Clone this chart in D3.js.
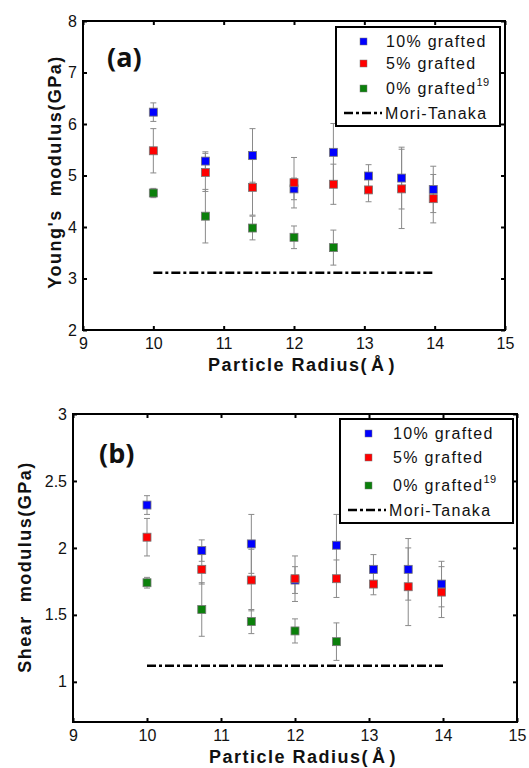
<!DOCTYPE html>
<html>
<head>
<meta charset="utf-8">
<script src="https://cdn.jsdelivr.net/npm/d3@7"></script>
<style>
  body { margin: 0; background: #fff; }
  svg { display: block; }
  .tick text { font-family: "Liberation Sans", Arial, sans-serif; font-size: 16px; fill: #111; }
  .title { font-family: "Liberation Sans", Arial, sans-serif; font-size: 18px; font-weight: bold; letter-spacing: 1.5px; fill: #111; white-space: pre; }
  .legend text { font-family: "Liberation Sans", Arial, sans-serif; font-size: 16px; letter-spacing: 1.3px; fill: #111; }
  .panel { font-family: "Open Sans", sans-serif; font-size: 27px; font-weight: bold; fill: #111; }
</style>
</head>
<body>
<svg id="chart" width="529" height="768"></svg>
<script>
// particle radius (Å)
var radius = [10, 10.74, 11.41, 12, 12.56, 13.06, 13.53, 13.98];
var radius0 = [10, 10.74, 11.41, 12, 12.56];

// Young's modulus (GPa)
var young10 = [6.23, 5.28, 5.39, 4.74, 5.45, 4.99, 4.95, 4.73];
var young10Err = [0.18, 0.18, 0.52, 0.21, 0.56, 0.22, 0.60, 0.45];
var young5 = [5.48, 5.06, 4.77, 4.86, 4.83, 4.72, 4.74, 4.55];
var young5Err = [0.43, 0.37, 0.54, 0.49, 0.39, 0.23, 0.77, 0.47];
var young0 = [4.66, 4.21, 3.98, 3.80, 3.60];
var young0Err = [0.09, 0.52, 0.23, 0.22, 0.34];
var youngMT = 3.11;

// Shear modulus (GPa)
var shear10 = [2.32, 1.98, 2.03, 1.76, 2.02, 1.84, 1.84, 1.73];
var shear10Err = [0.07, 0.08, 0.22, 0.10, 0.23, 0.11, 0.23, 0.17];
var shear5 = [2.08, 1.84, 1.76, 1.77, 1.77, 1.73, 1.71, 1.67];
var shear5Err = [0.14, 0.11, 0.23, 0.17, 0.14, 0.08, 0.29, 0.19];
var shear0 = [1.74, 1.54, 1.45, 1.38, 1.30];
var shear0Err = [0.04, 0.20, 0.09, 0.09, 0.14];
var shearMT = 1.12;

var mtRange = [10, 14];
var xTicks = [9, 10, 11, 12, 13, 14, 15];
var youngTicks = [2, 3, 4, 5, 6, 7, 8];
var shearTicks = [1, 1.5, 2, 2.5, 3];

var legendNames = ["10% grafted", "5% grafted", "0% grafted", "Mori-Tanaka"];
var colors = ["#0000ff", "#ff0000", "#0b800b"];

var svg = d3.select("#chart");

function drawPanel(opt) {
  var g = svg.append("g");
  var x = d3.scaleLinear().domain([9, 15]).range([opt.left, opt.right]);
  var y = d3.scaleLinear().domain(opt.yDomain).range([opt.bottom, opt.top]);

  // axes with inward ticks
  g.append("g")
    .attr("transform", "translate(0," + opt.bottom + ")")
    .call(d3.axisBottom(x).tickValues(xTicks).tickSize(-4).tickPadding(8).tickFormat(d3.format("d")))
    .call(function(a) { a.select(".domain").remove(); });
  g.append("g")
    .attr("transform", "translate(0," + opt.top + ")")
    .call(d3.axisTop(x).tickValues(xTicks).tickSize(-4).tickFormat(""))
    .call(function(a) { a.select(".domain").remove(); });
  g.append("g")
    .attr("transform", "translate(" + opt.left + ",0)")
    .call(d3.axisLeft(y).tickValues(opt.yTicks).tickSize(-4).tickPadding(6).tickFormat(function(d) { return d; }))
    .call(function(a) { a.select(".domain").remove(); });
  g.append("g")
    .attr("transform", "translate(" + opt.right + ",0)")
    .call(d3.axisRight(y).tickValues(opt.yTicks).tickSize(-4).tickFormat(""))
    .call(function(a) { a.select(".domain").remove(); });
  g.selectAll(".tick line").attr("stroke", "#000").attr("stroke-width", 2);

  g.append("rect")
    .attr("x", opt.left).attr("y", opt.top)
    .attr("width", opt.right - opt.left).attr("height", opt.bottom - opt.top)
    .attr("fill", "none").attr("stroke", "#000").attr("stroke-width", 2);

  // Mori-Tanaka
  g.append("line")
    .attr("x1", x(mtRange[0])).attr("x2", x(mtRange[1]))
    .attr("y1", y(opt.mt)).attr("y2", y(opt.mt))
    .attr("stroke", "#000").attr("stroke-width", 2.5)
    .attr("stroke-dasharray", "9,3,3,3");

  var series = opt.series;
  // error bars first
  series.forEach(function(s) {
    var pts = s.xs.map(function(r, i) { return { r: r, v: s.vals[i], e: s.errs[i] }; });
    var eb = g.append("g").selectAll("g").data(pts).enter().append("g")
      .attr("stroke", "#8a8a8a").attr("stroke-width", 1);
    eb.append("line")
      .attr("x1", function(d) { return x(d.r); }).attr("x2", function(d) { return x(d.r); })
      .attr("y1", function(d) { return y(d.v - d.e); }).attr("y2", function(d) { return y(d.v + d.e); });
    eb.append("line")
      .attr("x1", function(d) { return x(d.r) - 3; }).attr("x2", function(d) { return x(d.r) + 3; })
      .attr("y1", function(d) { return y(d.v - d.e); }).attr("y2", function(d) { return y(d.v - d.e); });
    eb.append("line")
      .attr("x1", function(d) { return x(d.r) - 3; }).attr("x2", function(d) { return x(d.r) + 3; })
      .attr("y1", function(d) { return y(d.v + d.e); }).attr("y2", function(d) { return y(d.v + d.e); });
  });
  series.forEach(function(s, k) {
    g.append("g").selectAll("rect")
      .data(s.xs.map(function(r, i) { return { r: r, v: s.vals[i] }; }))
      .enter().append("rect")
      .attr("x", function(d) { return x(d.r) - 4; })
      .attr("y", function(d) { return y(d.v) - 4; })
      .attr("width", 8).attr("height", 8)
      .attr("fill", colors[k])
      .attr("stroke", "#777").attr("stroke-width", 0.8);
  });

  // titles
  var xt = g.append("text").attr("class", "title")
    .attr("x", (opt.left + opt.right) / 2 + 8).attr("y", opt.bottom + 41)
    .attr("text-anchor", "middle");
  xt.append("tspan").text("Particle Radius(");
  xt.append("tspan").attr("dx", 3).text("Å");
  xt.append("tspan").attr("dx", 3).text(")");
  g.append("text").attr("class", "title")
    .attr("transform", "translate(" + opt.yTitleX + "," + opt.yTitleY + ") rotate(-90)")
    .attr("text-anchor", "middle")
    .text(opt.yTitle);

  g.append("text").attr("class", "panel")
    .attr("x", opt.panelX).attr("y", opt.panelY)
    .text(opt.panel);

  // legend
  var L = opt.legend;
  var lg = g.append("g").attr("class", "legend");
  lg.append("rect")
    .attr("x", L.x).attr("y", L.y).attr("width", L.w).attr("height", L.h)
    .attr("fill", "#fff").attr("stroke", "#000").attr("stroke-width", 2);
  legendNames.forEach(function(name, i) {
    var yy = L.rows[i];
    if (i < 3) {
      lg.append("rect")
        .attr("x", L.markX - 3).attr("y", yy - 3).attr("width", 7).attr("height", 7)
        .attr("fill", colors[i]).attr("stroke", "#777").attr("stroke-width", 0.5);
    } else {
      lg.append("line")
        .attr("x1", L.lineX[0]).attr("x2", L.lineX[1]).attr("y1", yy).attr("y2", yy)
        .attr("stroke", "#000").attr("stroke-width", 2.5).attr("stroke-dasharray", "9,3,3,3");
    }
    var t = lg.append("text").attr("x", i < 3 ? L.textX : L.lineX[1] + 3).attr("y", yy + 6).text(name);
    if (i === 2) {
      t.append("tspan").attr("dy", -8).attr("font-size", "11px").attr("letter-spacing", "0.5px").text("19");
    }
  });
}

drawPanel({
  left: 83, right: 505, top: 21, bottom: 330,
  yDomain: [2, 8], yTicks: youngTicks, mt: youngMT,
  series: [
    { xs: radius, vals: young10, errs: young10Err },
    { xs: radius, vals: young5, errs: young5Err },
    { xs: radius0, vals: young0, errs: young0Err }
  ],
  yTitle: "Young's  modulus(GPa)", yTitleX: 61, yTitleY: 172,
  panel: "(a)", panelX: 107, panelY: 67,
  legend: { x: 336, y: 27, w: 164, h: 99, rows: [41, 63, 88, 113], markX: 363, textX: 386, lineX: [344, 382] }
});

drawPanel({
  left: 73, right: 517, top: 414, bottom: 722,
  yDomain: [0.7, 3], yTicks: shearTicks, mt: shearMT,
  series: [
    { xs: radius, vals: shear10, errs: shear10Err },
    { xs: radius, vals: shear5, errs: shear5Err },
    { xs: radius0, vals: shear0, errs: shear0Err }
  ],
  yTitle: "Shear  modulus(GPa)", yTitleX: 31, yTitleY: 567,
  panel: "(b)", panelX: 99, panelY: 463,
  legend: { x: 340, y: 419, w: 173, h: 104, rows: [433, 457, 485, 510], markX: 368, textX: 393, lineX: [348, 386] }
});
</script>
</body>
</html>
